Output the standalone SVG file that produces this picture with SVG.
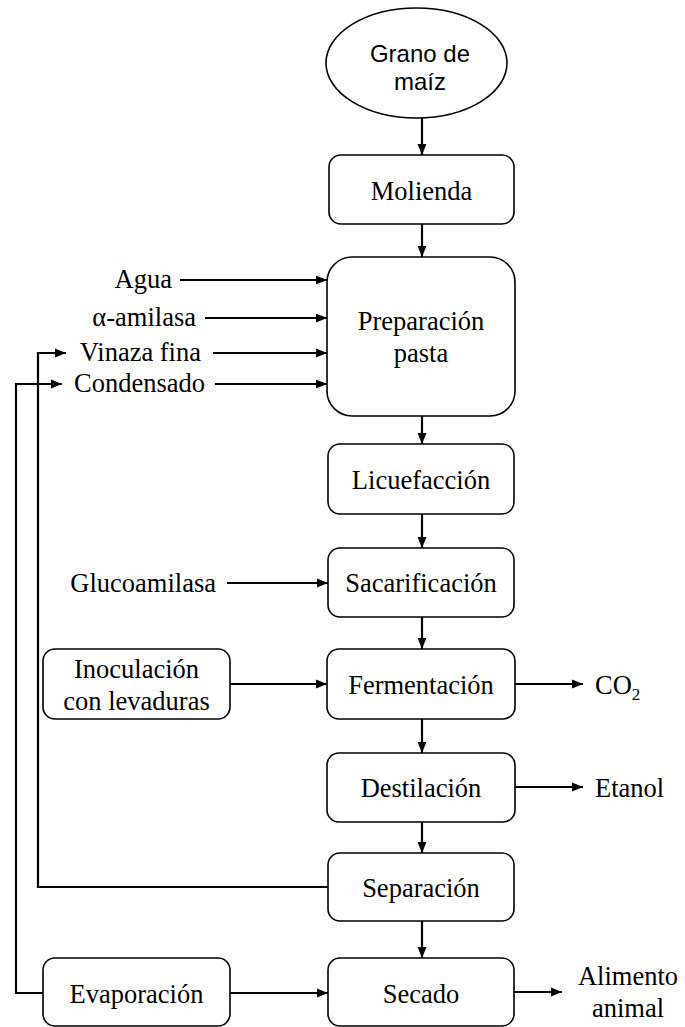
<svg xmlns="http://www.w3.org/2000/svg" width="685" height="1027" viewBox="0 0 685 1027">
<defs>
<marker id="ah" markerUnits="userSpaceOnUse" markerWidth="12" markerHeight="10" refX="11" refY="5" orient="auto">
<path d="M0,0.5 L11,5 L0,9.5 Z" fill="#000"/>
</marker>
</defs>
<style>
.box{fill:#fff;stroke:#000;stroke-width:1.6}
.t{font-family:"Liberation Serif","Times New Roman",serif;font-size:26.5px;fill:#000}
.c{text-anchor:middle}
.e{text-anchor:end}
.s{font-family:"Liberation Sans",Arial,sans-serif;font-size:24px;fill:#000;text-anchor:middle}
.ln{fill:none;stroke:#000;stroke-width:2}
.ar{fill:none;stroke:#000;stroke-width:2.2;marker-end:url(#ah)}
</style>
<rect width="685" height="1027" fill="#fff"/>
<g id="connectors">
<path class="ar" d="M422,118 V155"/>
<path class="ar" d="M422,224 V257"/>
<path class="ar" d="M422,416 V444"/>
<path class="ar" d="M422,514 V548"/>
<path class="ar" d="M422,617 V649"/>
<path class="ar" d="M422,719 V753"/>
<path class="ar" d="M422,822 V853"/>
<path class="ar" d="M422,921 V958"/>
<path class="ar" d="M180,280 H327"/>
<path class="ar" d="M205,318 H327"/>
<path class="ar" d="M213,353 H327"/>
<path class="ar" d="M215,384 H327"/>
<path class="ar" d="M227,583 H328"/>
<path class="ar" d="M230,684 H327"/>
<path class="ar" d="M515,684 H583"/>
<path class="ar" d="M515,787 H583"/>
<path class="ar" d="M514,992 H562"/>
<path class="ar" d="M230,993 H328"/>
<path class="ar" d="M328,887 H38 V353 H66"/>
<path class="ar" d="M43,993 H16 V384 H62"/>
</g>
<g id="grano">
<ellipse class="box" cx="416.5" cy="63" rx="90.5" ry="55"/>
<text class="s" x="420" y="62">Grano de</text>
<text class="s" x="420" y="90">maíz</text>
</g>
<g id="molienda">
<rect class="box" x="329" y="155" width="185" height="69" rx="12"/>
<text class="t c" x="421.5" y="200">Molienda</text>
</g>
<g id="preparacion">
<rect class="box" x="327" y="257" width="188" height="159" rx="25"/>
<text class="t c" x="421" y="330">Preparación</text>
<text class="t c" x="421" y="362">pasta</text>
</g>
<g id="licuefaccion">
<rect class="box" x="328" y="444" width="186" height="70" rx="12"/>
<text class="t c" x="421" y="489">Licuefacción</text>
</g>
<g id="sacarificacion">
<rect class="box" x="328" y="548" width="186" height="69" rx="12"/>
<text class="t c" x="421" y="592">Sacarificación</text>
</g>
<g id="fermentacion">
<rect class="box" x="327" y="649" width="188" height="70" rx="12"/>
<text class="t c" x="421" y="694">Fermentación</text>
</g>
<g id="destilacion">
<rect class="box" x="327" y="753" width="188" height="69" rx="12"/>
<text class="t c" x="421" y="797">Destilación</text>
</g>
<g id="separacion">
<rect class="box" x="328" y="853" width="186" height="68" rx="12"/>
<text class="t c" x="421" y="897">Separación</text>
</g>
<g id="secado">
<rect class="box" x="328" y="958" width="186" height="68" rx="12"/>
<text class="t c" x="421" y="1003">Secado</text>
</g>
<g id="inoculacion">
<rect class="box" x="43" y="649" width="187" height="70" rx="12"/>
<text class="t c" x="136.5" y="678">Inoculación</text>
<text class="t c" x="136.5" y="710">con levaduras</text>
</g>
<g id="evaporacion">
<rect class="box" x="43" y="958" width="187" height="68" rx="12"/>
<text class="t c" x="136.5" y="1003">Evaporación</text>
</g>
<g id="inputs">
<text class="t e" x="172" y="288">Agua</text>
<text class="t e" x="196" y="326">α-amilasa</text>
<text class="t e" x="201" y="361">Vinaza fina</text>
<text class="t e" x="205" y="392">Condensado</text>
<text class="t e" x="216" y="592">Glucoamilasa</text>
</g>
<g id="outputs">
<text class="t" x="595" y="694">CO<tspan font-size="17" dy="6">2</tspan></text>
<text class="t" x="595" y="797">Etanol</text>
<text class="t c" x="628" y="985" font-size="28">Alimento</text>
<text class="t c" x="628" y="1017" font-size="28">animal</text>
</g>
</svg>
